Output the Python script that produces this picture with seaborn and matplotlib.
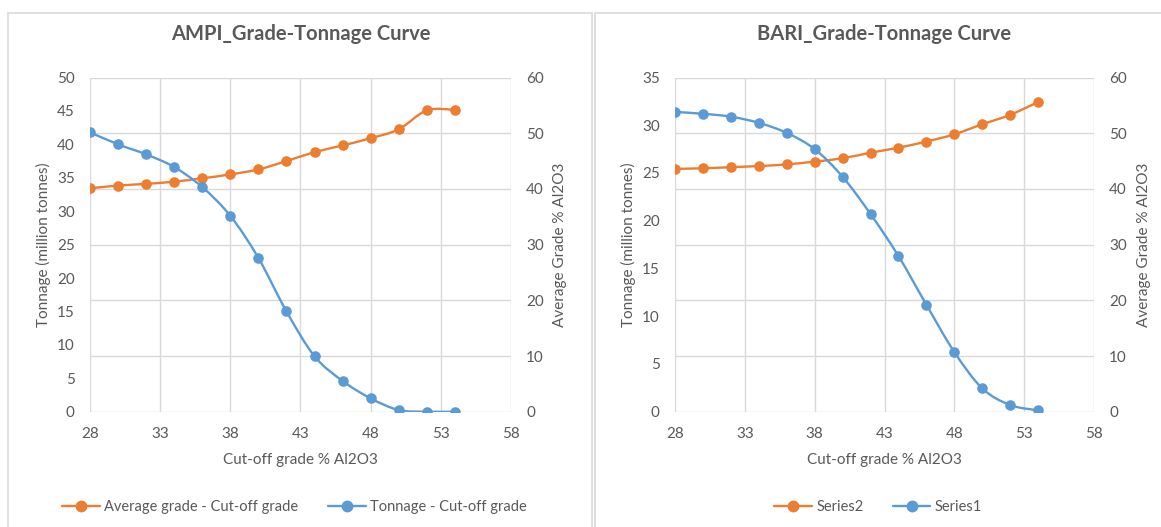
import numpy as np
import matplotlib
matplotlib.use("Agg")
import matplotlib.pyplot as plt
import seaborn as sns
from matplotlib.path import Path
from matplotlib.patches import PathPatch, Rectangle
from matplotlib.lines import Line2D

# Cut-off grades (% Al2O3)
cutoff = [28, 30, 32, 34, 36, 38, 40, 42, 44, 46, 48, 50, 52, 54]

# AMPI deposit
ampi_tonnage = [41.8, 40.0, 38.5, 36.6, 33.6, 29.3, 23.0, 15.0, 8.3, 4.6, 2.0, 0.25, 0.0, 0.0]
ampi_grade = [40.1, 40.6, 40.9, 41.3, 41.9, 42.6, 43.5, 45.0, 46.6, 47.8, 49.1, 50.7, 54.1, 54.2]

# BARI deposit
bari_tonnage = [31.4, 31.2, 30.9, 30.25, 29.2, 27.5, 24.6, 20.7, 16.3, 11.2, 6.25, 2.44, 0.7, 0.14]
bari_grade = [43.6, 43.7, 43.9, 44.1, 44.4, 44.9, 45.5, 46.5, 47.4, 48.5, 49.8, 51.6, 53.3, 55.6]

x_ticks = [28, 33, 38, 43, 48, 53, 58]

ORANGE = "#ED7D31"
BLUE = "#5B9BD5"
GRID = "#D9D9D9"
TEXT = "#595959"

sns.set_theme(style="white")
plt.rcParams["font.family"] = ["Lato", "DejaVu Sans"]
plt.rcParams["text.color"] = TEXT
plt.rcParams["axes.labelcolor"] = TEXT

W, H = 1161, 527
fig = plt.figure(figsize=(W / 100, H / 100), dpi=100)
fig.patch.set_facecolor("white")


def px_box(x0, y_top, x1, y_bottom):
    return [x0 / W, 1 - y_bottom / H, (x1 - x0) / W, (y_bottom - y_top) / H]


def smooth_curve(ax, x, y, color):
    """Smoothed connecting line (cubic Bezier through the data points)."""
    pts = np.column_stack([x, y]).astype(float)
    ext = np.vstack([pts[0], pts, pts[-1]])
    verts = [pts[0]]
    codes = [Path.MOVETO]
    for i in range(len(pts) - 1):
        p0, p1, p2, p3 = ext[i], ext[i + 1], ext[i + 2], ext[i + 3]
        verts += [p1 + (p2 - p0) / 6.0, p2 - (p3 - p1) / 6.0, p2]
        codes += [Path.CURVE4] * 3
    ax.add_patch(PathPatch(Path(verts, codes), facecolor="none", edgecolor=color,
                           lw=1.7, capstyle="round", joinstyle="round", zorder=3))


def grade_tonnage(box, title, tonnage, grade, tmax, names, legend_x, lab_left, lab_right):
    ax = fig.add_axes(box)        # grade axis (right), carries the grid
    axt = ax.twinx()              # tonnage axis (left)
    ax.yaxis.tick_right()
    ax.yaxis.set_label_position("right")
    axt.yaxis.tick_left()
    axt.yaxis.set_label_position("left")

    smooth_curve(ax, cutoff, grade, ORANGE)
    sns.scatterplot(x=cutoff, y=grade, ax=ax, color=ORANGE, s=58, linewidth=0,
                    zorder=4, legend=False)
    smooth_curve(axt, cutoff, tonnage, BLUE)
    sns.scatterplot(x=cutoff, y=tonnage, ax=axt, color=BLUE, s=58, linewidth=0,
                    zorder=4, legend=False)

    ax.set_xlim(28, 58)
    ax.set_xticks(x_ticks)
    ax.set_ylim(0, 60)
    ax.set_yticks(range(0, 61, 10))
    axt.set_ylim(0, tmax)
    axt.set_yticks(range(0, tmax + 1, 5))

    ax.grid(True, color=GRID, lw=1.0)
    axt.grid(False)
    for a in (ax, axt):
        for s in a.spines.values():
            s.set_visible(False)
        a.tick_params(length=0, labelsize=11, labelcolor=TEXT)
    ax.tick_params(axis="x", pad=11)
    ax.tick_params(axis="y", pad=11)
    axt.tick_params(axis="y", pad=11)

    ax.set_xlabel("Cut-off grade % Al2O3", fontsize=11)
    ax.xaxis.set_label_coords(0.5, -0.123)
    axt.set_ylabel("Tonnage (million tonnes)", fontsize=11, va="center", ha="center")
    axt.yaxis.set_label_coords(lab_left, 0.5)
    ax.set_ylabel("Average Grade % Al2O3", fontsize=11, va="center", ha="center",
                  rotation=90)
    ax.yaxis.set_label_coords(lab_right, 0.5)

    ax.set_title(title, fontsize=14.5, fontweight="bold", color=TEXT, y=1.106, va="center")

    handles = [
        Line2D([], [], color=ORANGE, lw=1.7, marker="o", markersize=7.5),
        Line2D([], [], color=BLUE, lw=1.7, marker="o", markersize=7.5),
    ]
    fig.legend(handles, names, loc="center", bbox_to_anchor=(legend_x / W, 1 - 507 / H),
               ncol=2, frameon=False, fontsize=10.5, handlelength=2.6,
               handletextpad=0.3, columnspacing=2.0, labelcolor=TEXT)


# Chart frames
fig.add_artist(Rectangle((8 / W, -0.1), (592 - 8) / W, 1.1 - 13 / H,
                         transform=fig.transFigure, facecolor="none",
                         edgecolor=GRID, lw=1.2))
fig.add_artist(Rectangle((595 / W, -0.1), 0.6, 1.1 - 13 / H,
                         transform=fig.transFigure, facecolor="none",
                         edgecolor=GRID, lw=1.2))

grade_tonnage(px_box(90, 77.5, 511, 411.7), "AMPI_Grade-Tonnage Curve",
              ampi_tonnage, ampi_grade, 50,
              ["Average grade - Cut-off grade", "Tonnage - Cut-off grade"],
              294.5, -0.1105, 1.116)
grade_tonnage(px_box(675, 77.5, 1094, 411.7), "BARI_Grade-Tonnage Curve",
              bari_tonnage, bari_grade, 35,
              ["Series2", "Series1"],
              878, -0.112, 1.119)

fig.savefig("out.png", dpi=100, facecolor="white")
